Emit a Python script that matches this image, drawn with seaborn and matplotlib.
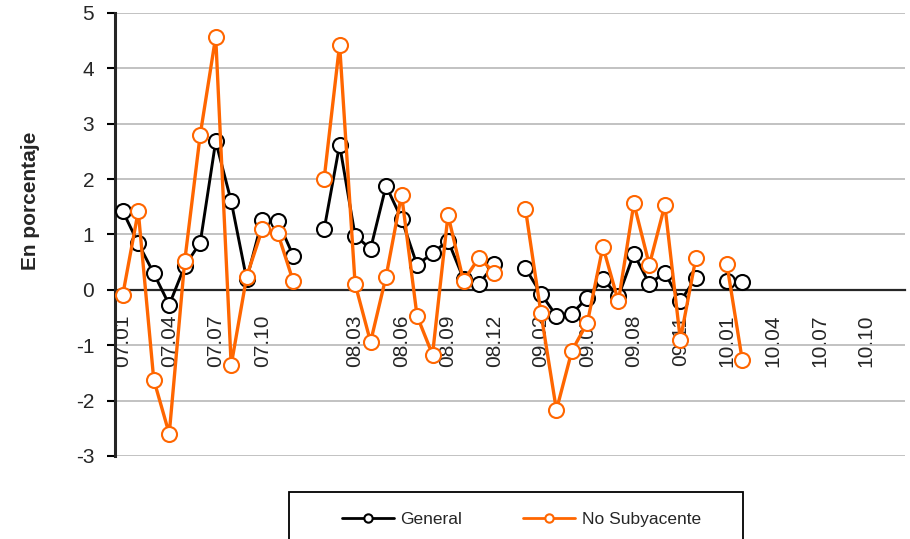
import numpy as np
import pandas as pd
import matplotlib
matplotlib.use("Agg")
import matplotlib.pyplot as plt
import seaborn as sns
from matplotlib.lines import Line2D
from matplotlib.patches import Rectangle

nan = np.nan

# month labels, one blank category between years
months = ["07.01", "07.02", "07.03", "07.04", "07.05", "07.06", "07.07", "07.08", "07.09", "07.10", "07.11", "07.12", "",
          "08.01", "08.02", "08.03", "08.04", "08.05", "08.06", "08.07", "08.08", "08.09", "08.10", "08.11", "08.12", "",
          "09.01", "09.02", "09.03", "09.04", "09.05", "09.06", "09.07", "09.08", "09.09", "09.10", "09.11", "09.12", "",
          "10.01", "10.02", "10.03", "10.04", "10.05", "10.06", "10.07", "10.08", "10.09", "10.10", "10.11", "10.12"]

general = [1.42, 0.84, 0.30, -0.27, 0.43, 0.85, 2.68, 1.60, 0.19, 1.26, 1.25, 0.62, nan,
           1.09, 2.62, 0.98, 0.74, 1.88, 1.28, 0.45, 0.66, 0.89, 0.20, 0.11, 0.46, nan,
           0.39, -0.07, -0.47, -0.43, -0.14, 0.20, -0.12, 0.65, 0.11, 0.31, -0.21, 0.22, nan,
           0.16, 0.15, nan, nan, nan, nan, nan, nan, nan, nan, nan, nan]

no_subyacente = [-0.09, 1.42, -1.62, -2.60, 0.52, 2.80, 4.57, -1.36, 0.24, 1.09, 1.03, 0.16, nan,
                 2.00, 4.43, 0.11, -0.94, 0.24, 1.72, -0.47, -1.17, 1.35, 0.16, 0.58, 0.31, nan,
                 1.46, -0.42, -2.17, -1.10, -0.59, 0.78, -0.21, 1.56, 0.45, 1.53, -0.90, 0.57, nan,
                 0.47, -1.27, nan, nan, nan, nan, nan, nan, nan, nan, nan, nan]

y_ticks = [-3, -2, -1, 0, 1, 2, 3, 4, 5]

sns.set_theme(style="white")
plt.rcParams["font.family"] = ["Liberation Sans", "DejaVu Sans"]

idx = np.arange(len(months))
df = pd.DataFrame({"idx": idx, "bloque": idx // 13,
                   "General": general, "No Subyacente": no_subyacente})

fig = plt.figure(figsize=(9.1, 5.39), dpi=100)
ax = fig.add_axes([0.1264, 0.154, 0.868, 0.822])

series = [("General", "black", 2.1), ("No Subyacente", "#FF6600", 2.4)]
for k, (name, color, lw) in enumerate(series):
    sub = df[["idx", "bloque", name]].dropna()
    sns.lineplot(data=sub, x="idx", y=name, units="bloque", estimator=None,
                 ax=ax, color=color, linewidth=lw, marker="o", markersize=10.8,
                 markerfacecolor="white", markeredgecolor=color,
                 markeredgewidth=1.5, zorder=4 + k, clip_on=False)

ax.set_xlim(-0.5, len(months) - 0.5)
ax.set_ylim(-3, 5)
ax.set_yticks(y_ticks)
ax.set_yticklabels([str(t) for t in y_ticks], fontsize=15)
ax.grid(axis="y", color="#BDBDBD", linewidth=1.3)
ax.set_axisbelow(True)

# category axis crossing at zero
for s in ["top", "right"]:
    ax.spines[s].set_visible(False)
ax.spines["bottom"].set_position(("data", 0))
ax.spines["bottom"].set_linewidth(1.6)
ax.spines["left"].set_linewidth(2.2)
ax.spines["bottom"].set_zorder(3)

ax.set_xticks(np.arange(-0.5, len(months), 1.0))
ax.set_xticklabels([])
ax.set_xticks(idx[::3], minor=True)
ax.set_xticklabels(months[::3], minor=True, rotation=90, fontsize=15)
ax.tick_params(axis="x", which="major", direction="out", length=6, width=1.3, color="black")
ax.tick_params(axis="x", which="minor", length=0, pad=18)
ax.tick_params(axis="y", direction="out", length=6, width=1.5, color="black", left=True, pad=9)

ax.set_xlabel("")
ax.set_ylabel("En porcentaje", fontsize=15, fontweight="bold", labelpad=26)
ax.yaxis.label.set_y(0.576)

# legend box runs past the bottom edge
fig.add_artist(Rectangle((0.3176, -0.1), 0.499, 0.1872, transform=fig.transFigure,
                         fill=False, edgecolor="black", linewidth=1.3))
handles = [Line2D([], [], color=c, linewidth=2, marker="o", markersize=6,
                  markerfacecolor="white", markeredgecolor=c, markeredgewidth=1.5)
           for _, c, _ in series]
fig.legend(handles, [s[0] for s in series], loc="center", bbox_to_anchor=(0.573, 0.037),
           ncol=2, frameon=False, fontsize=12.5, handlelength=3.0, columnspacing=3.5,
           handletextpad=0.4)

fig.savefig("out.png", dpi=100)
